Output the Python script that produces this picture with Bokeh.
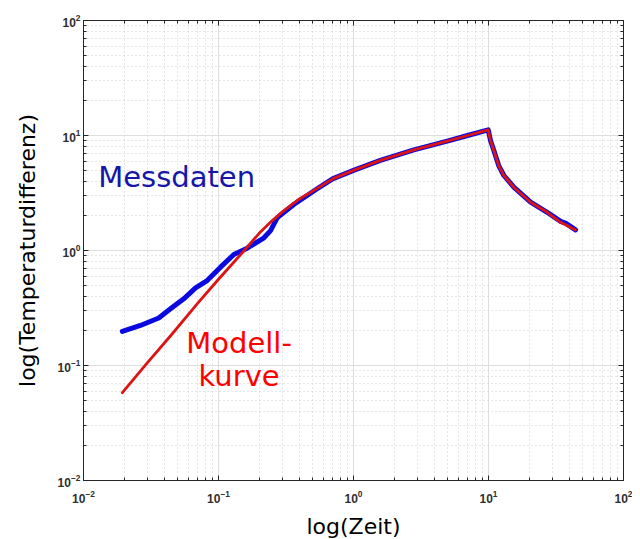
from bokeh.plotting import figure
from bokeh.models import LogAxis, LogTicker, Label, CustomJSTickFormatter, LogTickFormatter, Range1d
from bokeh.embed import file_html
from bokeh.resources import INLINE

# ---- data ----
meas_t = [0.0194, 0.0264, 0.0361, 0.0441, 0.0553, 0.0676, 0.0824, 0.1035, 0.130, 0.163,
          0.217, 0.243, 0.272, 0.361, 0.538, 0.70, 1.0, 1.58, 2.8, 4.94, 7.0, 9.95,
          10.35, 10.96, 11.9, 13.0, 15.4, 20.5, 27.2, 34.2, 37.5, 44.1]
meas_v = [0.198, 0.223, 0.259, 0.311, 0.380, 0.473, 0.548, 0.716, 0.923, 1.047,
          1.29, 1.49, 1.92, 2.51, 3.44, 4.2, 4.97, 6.07, 7.5, 8.93, 10.0, 11.2,
          9.06, 7.41, 5.48, 4.49, 3.55, 2.63, 2.15, 1.79, 1.72, 1.51]

model_t = [0.0194, 0.03, 0.045, 0.07, 0.1, 0.15, 0.2, 0.25, 0.3, 0.4, 0.538, 0.70,
           1.0, 1.58, 2.8, 4.94, 7.0, 9.95, 10.35, 10.96, 11.9, 13.0, 15.4, 20.5,
           27.2, 34.2, 44.1]
model_v = [0.058, 0.107, 0.186, 0.347, 0.562, 0.955, 1.41, 1.82, 2.19, 2.82, 3.47, 4.2,
           4.97, 6.07, 7.5, 8.93, 10.0, 11.2, 9.06, 7.41, 5.48, 4.49, 3.55, 2.63,
           2.15, 1.76, 1.51]

x_limits = [0.01, 100]
y_limits = [0.01, 100]

x_title = "log(Zeit)"
y_title = "log(Temperaturdifferenz)"
meas_label = "Messdaten"
model_label = ["Modell-", "kurve"]

# ---- figure ----
p = figure(x_axis_type="log", y_axis_type="log",
           x_range=Range1d(*x_limits), y_range=Range1d(*y_limits),
           frame_width=540, frame_height=460,
           min_border_left=83, min_border_top=20, min_border_right=9, min_border_bottom=55,
           output_backend="svg", toolbar_location=None,
           background_fill_color="white", border_fill_color="white")
p.outline_line_color = "#262626"
p.outline_line_width = 1


def style_axis(ax, show_labels):
    ax.ticker = LogTicker(num_minor_ticks=10)
    ax.major_tick_in = 5
    ax.major_tick_out = 0
    ax.minor_tick_in = 3
    ax.minor_tick_out = 0
    ax.axis_line_color = "#262626"
    ax.major_tick_line_color = "#262626"
    ax.minor_tick_line_color = "#262626"
    if show_labels:
        ax.formatter = LogTickFormatter()
        ax.major_label_text_font = "Liberation Sans"
        ax.major_label_text_font_size = "12px"
        ax.major_label_text_font_style = "bold"
        ax.major_label_text_color = "#303030"
    else:
        ax.formatter = CustomJSTickFormatter(code="return '';")


style_axis(p.xaxis[0], True)
style_axis(p.yaxis[0], True)
p.xaxis[0].major_label_standoff = 9
p.yaxis[0].major_label_standoff = 3

p.xaxis[0].axis_label = x_title
p.xaxis[0].axis_label_text_font = "DejaVu Sans"
p.xaxis[0].axis_label_text_font_size = "22px"
p.xaxis[0].axis_label_text_font_style = "normal"
p.xaxis[0].axis_label_text_color = "#000000"
p.xaxis[0].axis_label_standoff = 8

p.yaxis[0].axis_label = y_title
p.yaxis[0].axis_label_text_font = "DejaVu Sans"
p.yaxis[0].axis_label_text_font_size = "22px"
p.yaxis[0].axis_label_text_font_style = "normal"
p.yaxis[0].axis_label_text_color = "#000000"
p.yaxis[0].axis_label_standoff = 15

for loc in ["above", "right"]:
    ax = LogAxis()
    style_axis(ax, False)
    ax.major_label_standoff = 0
    p.add_layout(ax, loc)

for g in (p.xgrid[0], p.ygrid[0]):
    g.grid_line_color = "#dedede"
    g.grid_line_width = 1
    g.minor_grid_line_color = "#cccccc"
    g.minor_grid_line_dash = "1 3"
    g.minor_grid_line_width = 1

# ---- curves ----
p.line(meas_t, meas_v, line_width=5, line_color="#0a0ae0", line_join="round", line_cap="round")
p.line(model_t, model_v, line_width=2.8, line_color="#dc1414", line_join="round", line_cap="round")

# ---- annotations ----
p.add_layout(Label(x=0.01285, y=4.37, text=meas_label, text_font="DejaVu Sans",
                   text_font_size="29px", text_color="#1616a8",
                   text_align="left", text_baseline="alphabetic"))
p.add_layout(Label(x=0.142, y=0.158, text=model_label[0], text_font="DejaVu Sans",
                   text_font_size="29px", text_color="#ff0000",
                   text_align="center", text_baseline="alphabetic"))
p.add_layout(Label(x=0.142, y=0.0817, text=model_label[1], text_font="DejaVu Sans",
                   text_font_size="29px", text_color="#ff0000",
                   text_align="center", text_baseline="alphabetic"))

open("out.html", "w").write(file_html(p, INLINE))
